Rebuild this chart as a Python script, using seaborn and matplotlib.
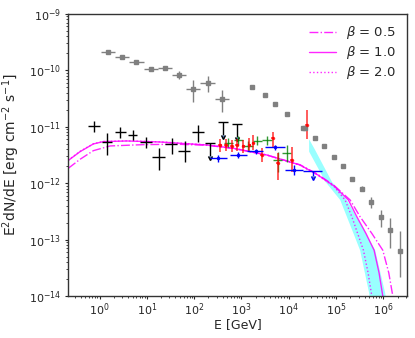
import numpy as np
import seaborn as sns
import matplotlib
matplotlib.use("Agg")
import matplotlib.pyplot as plt

# ---------------- data ----------------
# gray points with energy bins (low energy group)
gray_e = [1.5, 3.0, 6.0, 12, 24, 48, 96, 192, 384]
gray_e_lo = [1.06, 2.12, 4.24, 8.5, 17, 34, 68, 136, 272]
gray_e_hi = [2.12, 4.24, 8.5, 17, 34, 68, 136, 272, 543]
gray_f = [2.1e-10, 1.73e-10, 1.41e-10, 1.05e-10, 1.09e-10, 8.2e-11, 4.7e-11, 5.9e-11, 3.1e-11]
gray_f_lo = [2.03e-10, 1.67e-10, 1.36e-10, 1.0e-10, 1.03e-10, 7.0e-11, 2.8e-11, 4.2e-11, 1.86e-11]
gray_f_hi = [2.17e-10, 1.79e-10, 1.46e-10, 1.1e-10, 1.15e-10, 9.6e-11, 6.8e-11, 7.9e-11, 4.4e-11]

# gray squares, high energy group
sq_e = [1700, 3200, 5100, 9300, 1.95e4, 2.2e4, 3.6e4, 5.6e4, 8.9e4, 1.42e5, 2.2e5,
        3.5e5, 5.5e5, 8.7e5, 1.35e6, 2.2e6]
sq_f = [5.1e-11, 3.7e-11, 2.5e-11, 1.67e-11, 9.6e-12, 9.4e-12, 6.4e-12, 4.57e-12, 2.95e-12,
        2.02e-12, 1.2e-12, 8.0e-13, 4.65e-13, 2.55e-13, 1.48e-13, 6.4e-14]
sq_f_lo = [4.9e-11, 3.55e-11, 2.4e-11, 1.6e-11, 9.2e-12, 9.0e-12, 6.1e-12, 4.35e-12, 2.8e-12,
           1.9e-12, 1.12e-12, 7.2e-13, 3.7e-13, 1.7e-13, 7.1e-14, 2.2e-14]
sq_f_hi = [5.3e-11, 3.85e-11, 2.6e-11, 1.74e-11, 1.0e-11, 9.8e-12, 6.7e-12, 4.8e-12, 3.1e-12,
           2.14e-12, 1.28e-12, 8.9e-13, 5.6e-13, 3.35e-13, 2.4e-13, 1.41e-13]

# black crosses
blk_e = [0.77, 1.42, 2.71, 5.0, 9.5, 18.1, 33.6, 64.3, 123]
blk_e_lo = [0.58, 1.11, 2.13, 4.07, 7.18, 12.6, 24.3, 46.3, 89]
blk_e_hi = [1.02, 1.81, 3.63, 6.31, 12.6, 24.3, 44.2, 81.8, 162]
blk_f = [1.03e-11, 5.45e-12, 7.97e-12, 7.24e-12, 5.3e-12, 2.95e-12, 4.96e-12, 3.77e-12, 7.98e-12]
blk_f_lo = [8.1e-12, 3.16e-12, 6.3e-12, 5.9e-12, 4.17e-12, 1.71e-12, 3.26e-12, 2.4e-12, 5.45e-12]
blk_f_hi = [1.28e-11, 7.76e-12, 1.0e-11, 8.7e-12, 6.68e-12, 4.17e-12, 6.25e-12, 5.68e-12, 1.08e-11]
# black upper limits
blk_ul_e = [217, 414, 795]
blk_ul_e_lo = [170, 324, 624]
blk_ul_e_hi = [275, 525, 1014]
blk_ul_f = [5.2e-12, 1.23e-11, 1.12e-11]

# blue points
blu_e = [326, 860, 2000, 5130, 1.28e4]
blu_e_lo = [217, 575, 1290, 3150, 8300]
blu_e_hi = [490, 1290, 2880, 8300, 2.0e4]
blu_f = [2.77e-12, 3.16e-12, 3.7e-12, 4.3e-12, 1.71e-12]
blu_f_lo = [2.4e-12, 2.75e-12, 3.3e-12, 3.9e-12, 1.38e-12]
blu_f_hi = [3.2e-12, 3.6e-12, 4.1e-12, 4.8e-12, 2.1e-12]
blu_ul_e = [3.27e4]
blu_ul_e_lo = [2.0e4]
blu_ul_e_hi = [5.0e4]
blu_ul_f = [1.66e-12]

# green points
grn_e = [528, 860, 1400, 2170, 3430, 5800, 8980]
grn_e_lo = [420, 683, 1110, 1720, 2720, 4600, 7130]
grn_e_hi = [665, 1083, 1760, 2730, 4320, 7300, 11300]
grn_f = [5.22e-12, 5.71e-12, 4.57e-12, 5.67e-12, 5.71e-12, 2.58e-12, 3.39e-12]
grn_f_lo = [4.4e-12, 4.8e-12, 3.8e-12, 4.7e-12, 4.8e-12, 1.6e-12, 2.4e-12]
grn_f_hi = [6.2e-12, 6.8e-12, 5.5e-12, 6.8e-12, 6.8e-12, 3.6e-12, 4.8e-12]

# red points
red_e = [353, 472, 624, 809, 1100, 1470, 1790, 2690, 4590, 5850, 1.16e4, 2.4e4]
red_f = [4.66e-12, 4.75e-12, 4.57e-12, 4.75e-12, 4.57e-12, 4.75e-12, 5.22e-12, 3.16e-12,
         6.2e-12, 2.28e-12, 2.58e-12, 1.08e-11]
red_f_lo = [3.57e-12, 3.72e-12, 3.57e-12, 3.72e-12, 3.43e-12, 3.57e-12, 3.88e-12, 2.38e-12,
            4.16e-12, 1.14e-12, 1.6e-12, 6.0e-12]
red_f_hi = [6.08e-12, 6.08e-12, 5.83e-12, 6.08e-12, 5.83e-12, 6.33e-12, 7.16e-12, 4.21e-12,
            8.19e-12, 3.39e-12, 4.44e-12, 1.99e-11]

# cyan butterfly edges
band_up_e = [2.69e4, 3.6e4, 8.2e4, 1.68e5, 3.38e5, 6.7e5, 1.09e6, 1.14e6]
band_up_f = [6.0e-12, 3.88e-12, 1.05e-12, 5.04e-13, 1.82e-13, 6.5e-14, 1.13e-14, 8.5e-15]
band_lo_e = [2.69e4, 6.0e4, 1.22e5, 1.98e5, 3.21e5, 4.99e5, 5.24e5]
band_lo_f = [3.62e-12, 1.05e-12, 5.04e-13, 1.82e-13, 6.5e-14, 1.13e-14, 8.5e-15]

# model curves
b10_e = [0.216, 0.387, 0.74, 1.2, 3.76, 19, 185, 674, 3430, 1.73e4, 3.96e4, 9.1e4,
         1.82e5, 2.74e5, 4.27e5, 6.36e5, 8.1e5, 9.7e5, 1.07e6]
b10_f = [2.51e-12, 3.62e-12, 4.96e-12, 5.45e-12, 5.6e-12, 5.37e-12, 4.75e-12, 4.16e-12,
         3.16e-12, 2.1e-12, 1.43e-12, 8.9e-13, 5.04e-13, 2.55e-13, 1.29e-13, 6.5e-14,
         2.57e-14, 1.0e-14, 4e-15]
b20_e = [0.216, 0.387, 0.74, 1.2, 3.76, 19, 185, 674, 3430, 1.73e4, 3.96e4, 9.1e4,
         1.55e5, 2.15e5, 2.85e5, 3.78e5, 4.75e5, 5.69e5, 6.3e5]
b20_f = [2.55e-12, 3.66e-12, 5.0e-12, 5.48e-12, 5.62e-12, 5.4e-12, 4.78e-12, 4.16e-12,
         3.16e-12, 2.08e-12, 1.41e-12, 8.7e-13, 5.04e-13, 2.55e-13, 1.29e-13, 6.5e-14,
         2.57e-14, 1.0e-14, 4e-15]
b05_e = [0.219, 0.387, 0.74, 1.67, 8.4, 42.9, 185, 674, 3430, 1.73e4, 3.96e4, 9.1e4,
         1.98e5, 3.21e5, 5.69e5, 9.7e5, 1.3e6, 1.58e6, 1.75e6]
b05_f = [1.84e-12, 2.65e-12, 3.77e-12, 4.57e-12, 4.82e-12, 4.9e-12, 4.7e-12, 4.13e-12,
         3.16e-12, 2.12e-12, 1.46e-12, 9.1e-13, 5.04e-13, 2.55e-13, 1.29e-13, 6.5e-14,
         2.57e-14, 1.0e-14, 4e-15]


def err_pair(v, lo, hi):
    v = np.asarray(v, dtype=float)
    return [v - np.asarray(lo, dtype=float), np.asarray(hi, dtype=float) - v]


sns.set_theme(style="ticks")
plt.rcParams["font.family"] = ["DejaVu Sans"]
plt.rcParams.update({
    "axes.edgecolor": "0.2",
    "axes.linewidth": 1.0,
    "xtick.labelsize": 8,
    "ytick.labelsize": 8,
    "axes.labelsize": 9,
    "xtick.major.size": 2.5, "ytick.major.size": 2.5,
    "xtick.minor.size": 1.5, "ytick.minor.size": 1.5,
    "xtick.major.width": 0.8, "ytick.major.width": 0.8,
    "xtick.minor.width": 0.6, "ytick.minor.width": 0.6,
    "xtick.major.pad": 1.5, "ytick.major.pad": 2.5,
    "lines.markersize": 3.5,
})

fig, ax = plt.subplots(figsize=(4.15, 3.38), dpi=100)
fig.subplots_adjust(left=0.164, right=0.981, bottom=0.124, top=0.959)
ax.set_xscale("log")
ax.set_yscale("log")

# butterfly band
ax.fill(band_up_e + band_lo_e[::-1], band_up_f + band_lo_f[::-1],
        color="cyan", alpha=0.4, lw=0, zorder=1)

# model curves
mag = "#ff00ff"
sns.lineplot(x=b05_e, y=b05_f, ax=ax, color=mag, lw=1, ls="-.", alpha=0.85,
             sort=False, estimator=None, label=r"$\beta$ = 0.5", zorder=2)
sns.lineplot(x=b10_e, y=b10_f, ax=ax, color=mag, lw=1, ls="-", alpha=0.85,
             sort=False, estimator=None, label=r"$\beta$ = 1.0", zorder=2)
sns.lineplot(x=b20_e, y=b20_f, ax=ax, color=mag, lw=1, ls=":", alpha=0.85,
             sort=False, estimator=None, label=r"$\beta$ = 2.0", zorder=2)

# data points
ax.errorbar(gray_e, gray_f, xerr=err_pair(gray_e, gray_e_lo, gray_e_hi),
            yerr=err_pair(gray_f, gray_f_lo, gray_f_hi), fmt="s", ms=3,
            color="gray", elinewidth=1, zorder=3)
ax.errorbar(sq_e, sq_f, yerr=err_pair(sq_f, sq_f_lo, sq_f_hi), fmt="s", ms=3,
            color="gray", elinewidth=1, zorder=3)
ax.errorbar(blk_e, blk_f, xerr=err_pair(blk_e, blk_e_lo, blk_e_hi),
            yerr=err_pair(blk_f, blk_f_lo, blk_f_hi), fmt="none",
            ecolor="black", elinewidth=1.0, zorder=3)
ax.errorbar(blk_ul_e, blk_ul_f, xerr=err_pair(blk_ul_e, blk_ul_e_lo, blk_ul_e_hi),
            yerr=np.array(blk_ul_f) * 0.42, uplims=True, fmt="none",
            ecolor="black", elinewidth=1.0, zorder=3)
ax.errorbar(grn_e, grn_f, xerr=err_pair(grn_e, grn_e_lo, grn_e_hi),
            yerr=err_pair(grn_f, grn_f_lo, grn_f_hi), fmt="none",
            ecolor="green", elinewidth=1.0, alpha=0.8, zorder=3)
ax.errorbar(red_e, red_f, xerr=np.array(red_e) * 0.08,
            yerr=err_pair(red_f, red_f_lo, red_f_hi), fmt=".", ms=3,
            color="red", elinewidth=1.2, alpha=0.75, zorder=3)
ax.errorbar(blu_e, blu_f, xerr=err_pair(blu_e, blu_e_lo, blu_e_hi),
            yerr=err_pair(blu_f, blu_f_lo, blu_f_hi), fmt=".", ms=3,
            color="blue", elinewidth=1.0, zorder=3)
ax.errorbar(blu_ul_e, blu_ul_f, xerr=err_pair(blu_ul_e, blu_ul_e_lo, blu_ul_e_hi),
            yerr=np.array(blu_ul_f) * 0.2, uplims=True, fmt="none",
            ecolor="blue", elinewidth=1.0, zorder=3)

ax.set_xlim(0.216, 3.17e6)
ax.set_ylim(1e-14, 1e-9)
ax.set_xlabel("E [GeV]")
ax.set_ylabel(r"E$^2$dN/dE [erg cm$^{-2}$ s$^{-1}$]", fontsize=10)
ax.xaxis.set_label_coords(0.5, -0.076)
ax.yaxis.set_label_coords(-0.135, 0.5)
ax.legend(loc="upper right", frameon=False, fontsize=9.5, labelspacing=0.22,
          borderaxespad=0.4)

fig.savefig("out.png", dpi=100)
